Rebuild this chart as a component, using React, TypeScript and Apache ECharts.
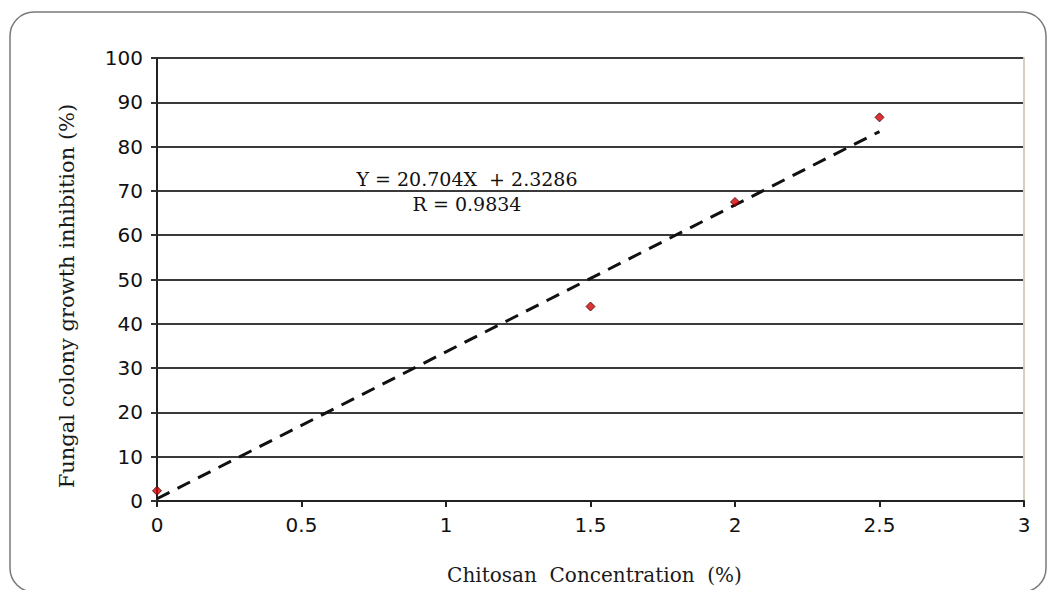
import React, { useEffect, useRef } from "react";
import * as echarts from "echarts";

const concentration = [0, 1.5, 2, 2.5];
const inhibition = [2.3, 43.9, 67.5, 86.6];
const trendX = [0, 2.5];
const trendY = [0.5, 83.4];
const equationText = "Y = 20.704X  + 2.3286";
const rText = "R = 0.9834";
const xTitle = "Chitosan  Concentration  (%)";
const yTitle = "Fungal colony growth inhibition (%)";

export default function App() {
  const ref = useRef<HTMLDivElement>(null);
  useEffect(() => {
    document.body.style.margin = "0";
    const chart = echarts.init(ref.current!, null, { renderer: "svg" });
    const points = concentration.map((x, i) => [x, inhibition[i]]);
    const trend = trendX.map((x, i) => [x, trendY[i]]);
    chart.setOption({
      animation: false,
      backgroundColor: "#ffffff",
      grid: { left: 157, right: 23, top: 58, bottom: 87 },
      xAxis: {
        type: "value",
        min: 0,
        max: 3,
        interval: 0.5,
        name: xTitle,
        nameLocation: "middle",
        nameGap: 64,
        nameTextStyle: { fontFamily: "DejaVu Serif", fontSize: 20, color: "#1a1a1a", padding: [0, 0, 0, 8] },
        axisLine: { show: true, lineStyle: { color: "#222", width: 2 } },
        axisTick: { show: true, length: 6, lineStyle: { color: "#222", width: 2 } },
        axisLabel: { margin: 14, fontFamily: "DejaVu Sans", fontSize: 20, color: "#111" },
        splitLine: { show: false },
      },
      yAxis: [
        {
          type: "value",
          min: 0,
          max: 100,
          interval: 10,
          axisLine: { show: true, lineStyle: { color: "#222", width: 2 } },
          axisTick: { show: true, length: 6, lineStyle: { color: "#333", width: 2 } },
          axisLabel: { margin: 14, fontFamily: "DejaVu Sans", fontSize: 20, color: "#111" },
          splitLine: { show: true, lineStyle: { color: "#3a3a3a", width: 2 } },
        },
        {
          type: "value",
          min: 0,
          max: 100,
          interval: 10,
          position: "right",
          axisLine: { show: true, lineStyle: { color: "#d6cfc0", width: 2 } },
          axisTick: { show: false },
          axisLabel: { show: false },
          splitLine: { show: false },
        },
      ],
      series: [
        {
          type: "line",
          data: trend,
          symbol: "none",
          lineStyle: { color: "#111", width: 3, type: [14, 9] },
          z: 3,
        },
        {
          type: "scatter",
          data: points,
          symbol: "diamond",
          symbolSize: 9,
          itemStyle: { color: "#d80000", borderColor: "#3a0000", borderWidth: 1 },
          z: 4,
        },
      ],
      graphic: [
        {
          type: "rect",
          shape: { x: 10, y: 12, width: 1036, height: 580, r: 24 },
          style: { fill: "none", stroke: "#7a7a7a", lineWidth: 1.5 },
          silent: true,
        },
        {
          type: "text",
          x: 67,
          y: 296,
          rotation: Math.PI / 2,
          style: {
            text: yTitle,
            fontFamily: "DejaVu Serif",
            fontSize: 21,
            fill: "#1a1a1a",
            align: "center",
            verticalAlign: "middle",
          },
        },
        {
          type: "text",
          x: 467,
          y: 179,
          style: {
            text: equationText,
            fontFamily: "DejaVu Serif",
            fontSize: 19,
            fill: "#111",
            align: "center",
            verticalAlign: "middle",
          },
        },
        {
          type: "text",
          x: 467,
          y: 204,
          style: {
            text: rText,
            fontFamily: "DejaVu Serif",
            fontSize: 19,
            fill: "#111",
            align: "center",
            verticalAlign: "middle",
          },
        },
      ],
    });
    return () => chart.dispose();
  }, []);
  return <div ref={ref} style={{ width: 1047, height: 590 }} />;
}
